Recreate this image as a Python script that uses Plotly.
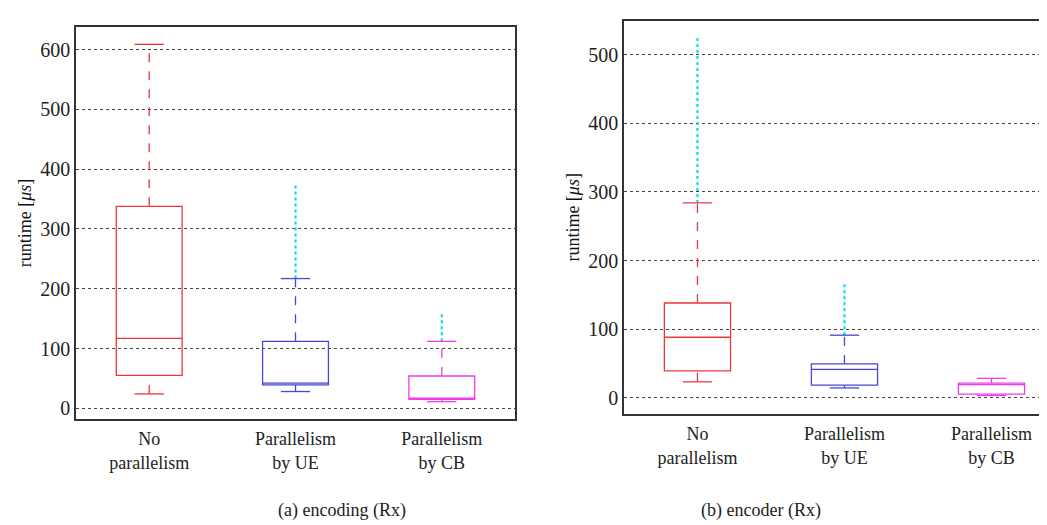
import plotly.graph_objects as go

# categories shared by both panels
categories = ['No<br>parallelism', 'Parallelism<br>by UE', 'Parallelism<br>by CB']
colors = ['rgb(235,55,60)', 'rgb(70,70,215)', 'rgb(240,60,240)']
outlier_color = 'rgb(0,225,235)'

# (a) encoding (Rx)
enc_low = [24, 28, 11]
enc_q1 = [55, 39, 15]
enc_med = [117, 42, 17]
enc_q3 = [338, 112, 54]
enc_high = [609, 217, 112]
enc_out_max = [None, 377, 161]

# (b) encoder (Rx)
dec_low = [23, 14, 3]
dec_q1 = [39, 18, 5]
dec_med = [88, 41, 19]
dec_q3 = [138, 49, 21]
dec_high = [284, 91, 28]
dec_out_max = [525, 167, None]

font_serif = 'Liberation Serif'


def add_panel(fig, xa, ya, low, q1, med, q3, high, out_max):
    for i in range(len(categories)):
        c = colors[i]
        # box with median (fences at box edges, whiskers drawn separately)
        fig.add_trace(go.Box(
            x=[i], q1=[q1[i]], median=[med[i]], q3=[q3[i]],
            lowerfence=[q1[i]], upperfence=[q3[i]],
            width=0.45, whiskerwidth=0, boxpoints=False,
            line=dict(color=c, width=1.3), fillcolor='rgba(0,0,0,0)',
            xaxis=xa, yaxis=ya, showlegend=False, hoverinfo='skip'))
        # outliers, drawn as a dense cyan run above the whisker
        if out_max[i] is not None:
            fig.add_trace(go.Scatter(
                x=[i, i], y=[high[i], out_max[i]], mode='lines',
                line=dict(color=outlier_color, width=2.2, dash='dot'),
                xaxis=xa, yaxis=ya, showlegend=False, hoverinfo='skip'))
        # dashed whiskers
        for a, b in [(q3[i], high[i]), (low[i], q1[i])]:
            fig.add_trace(go.Scatter(
                x=[i, i], y=[a, b], mode='lines',
                line=dict(color=c, width=1.3, dash='dash'),
                xaxis=xa, yaxis=ya, showlegend=False, hoverinfo='skip'))
        # whisker caps
        for v in [low[i], high[i]]:
            fig.add_trace(go.Scatter(
                x=[i - 0.1, i + 0.1], y=[v, v], mode='lines',
                line=dict(color=c, width=1.3),
                xaxis=xa, yaxis=ya, showlegend=False, hoverinfo='skip'))


fig = go.Figure()
add_panel(fig, 'x', 'y', enc_low, enc_q1, enc_med, enc_q3, enc_high, enc_out_max)
add_panel(fig, 'x2', 'y2', dec_low, dec_q1, dec_med, dec_q3, dec_high, dec_out_max)

xcommon = dict(tickmode='array', tickvals=[0, 1, 2], ticktext=categories,
               showgrid=False, zeroline=False, ticks='outside', ticklen=3,
               tickcolor='rgba(0,0,0,0)',
               tickfont=dict(family=font_serif, size=18, color='#222'))
ycommon = dict(showgrid=True, gridcolor='#444', griddash='dot', gridwidth=1,
               zeroline=False, ticks='', dtick=100,
               tickfont=dict(family=font_serif, size=20, color='#222'),
               title=dict(text='runtime [<i>μs</i>]', standoff=4,
                          font=dict(family=font_serif, size=18, color='#111')))

fig.update_layout(
    width=1047, height=525,
    margin=dict(l=0, r=0, t=0, b=0),
    font=dict(family=font_serif, size=18, color='#222'),
    plot_bgcolor='white', paper_bgcolor='white',
    xaxis=dict(xcommon, domain=[0.065, 0.4842], range=[-0.5, 2.5], anchor='y',
               showline=True, linecolor='#333', linewidth=1.5, mirror=True),
    yaxis=dict(ycommon, domain=[0.2171, 0.9638], range=[-18, 638], anchor='x',
               showline=True, linecolor='#333', linewidth=1.5, mirror=True),
    xaxis2=dict(xcommon, domain=[0.5883, 1.0], range=[-0.5, 2.432], anchor='y2',
                showline=True, linecolor='#333', linewidth=1.5, mirror=True),
    yaxis2=dict(ycommon, domain=[0.2267, 0.9758], range=[-24, 550], anchor='x2',
                showline=True, linecolor='#333', linewidth=1.5),
    annotations=[
        dict(text='(a) encoding (Rx)', x=0.256, y=0.02, xref='paper', yref='paper',
             showarrow=False, font=dict(family=font_serif, size=18, color='#222')),
        dict(text='(b) encoder (Rx)', x=0.778, y=0.02, xref='paper', yref='paper',
             showarrow=False, font=dict(family=font_serif, size=18, color='#222')),
    ],
)

fig.write_html('out.html')
